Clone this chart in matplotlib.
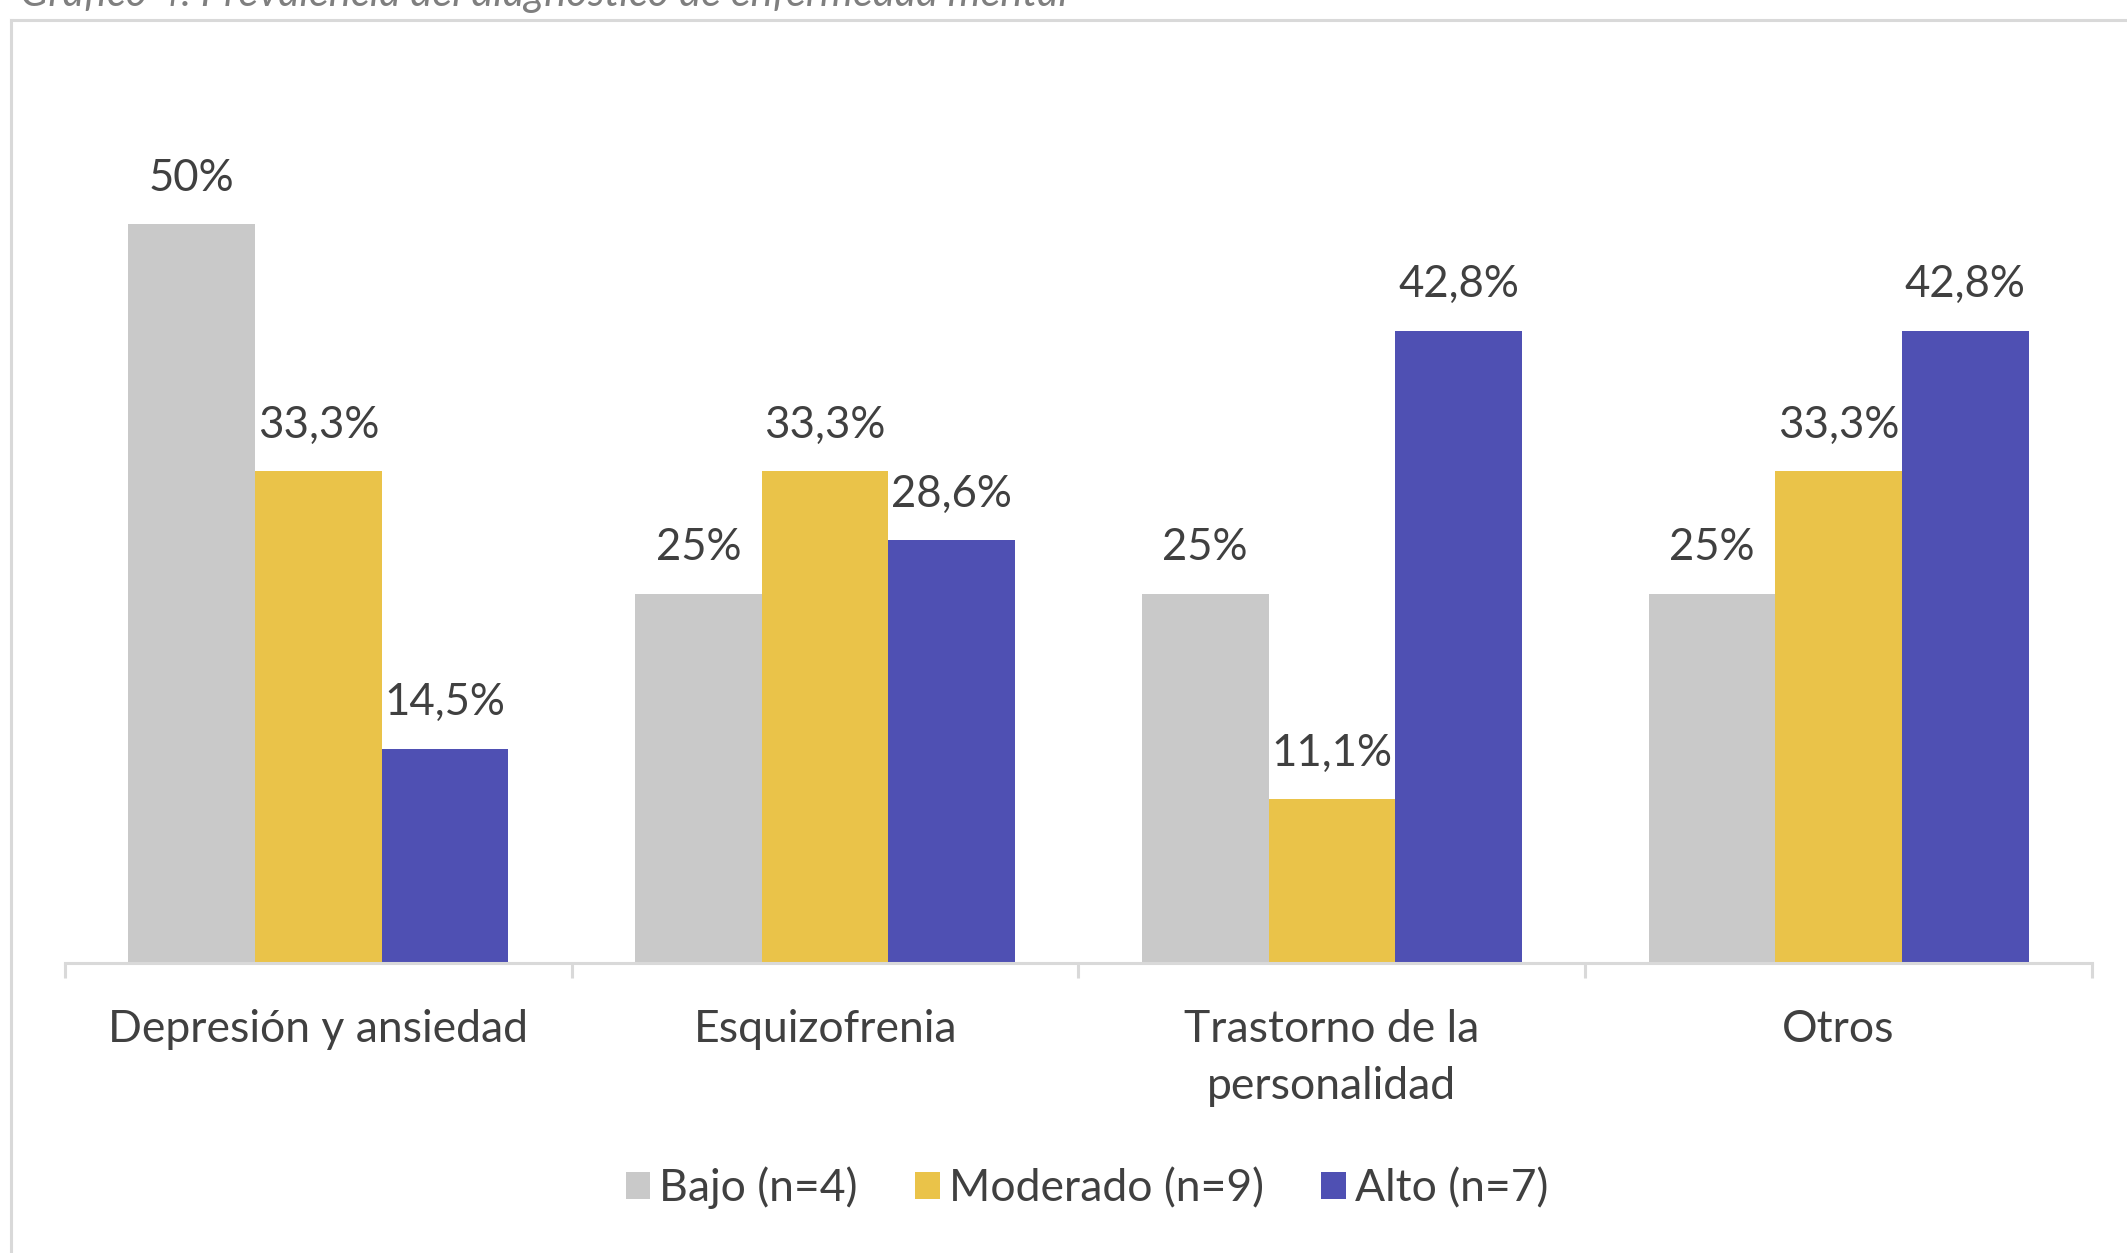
import numpy as np
import matplotlib.pyplot as plt
from matplotlib.lines import Line2D

# datos
categorias = ['Depresión y ansiedad', 'Esquizofrenia', 'Trastorno de la\npersonalidad', 'Otros']
series = ['Bajo (n=4)', 'Moderado (n=9)', 'Alto (n=7)']
bajo = [50, 25, 25, 25]
moderado = [33.3, 33.3, 11.1, 33.3]
alto = [14.5, 28.6, 42.8, 42.8]
etiquetas_bajo = ['50%', '25%', '25%', '25%']
etiquetas_moderado = ['33,3%', '33,3%', '11,1%', '33,3%']
etiquetas_alto = ['14,5%', '28,6%', '42,8%', '42,8%']
colores = ['#C9C9C9', '#EAC349', '#4F50B3']

plt.rcParams['font.family'] = ['Lato', 'DejaVu Sans']

fig = plt.figure(figsize=(21.27, 12.53), dpi=100)
ax = fig.add_axes([0.0306, 0.2315, 0.9529, 0.6485])

x = np.arange(len(categorias))
ancho = 0.25
valores = [bajo, moderado, alto]
etiquetas = [etiquetas_bajo, etiquetas_moderado, etiquetas_alto]
for i, (vals, labs) in enumerate(zip(valores, etiquetas)):
    pos = x + (i - 1) * ancho
    ax.bar(pos, vals, width=ancho, color=colores[i], label=series[i], zorder=2)
    for px, v, t in zip(pos, vals, labs):
        ax.annotate(t, (px, v), xytext=(0, 24), textcoords='offset points',
                    ha='center', va='baseline', fontsize=31.5, color='#404040')

ax.set_xlim(-0.5, len(categorias) - 0.5)
ax.set_ylim(0, 55)
ax.set_yticks([])
for s in ['top', 'right', 'left']:
    ax.spines[s].set_visible(False)
ax.spines['bottom'].set_color('#D9D9D9')
ax.spines['bottom'].set_linewidth(2.2)

ax.set_xticks(x)
ax.set_xticklabels(categorias, fontsize=32, color='#404040', linespacing=1.5)
ax.tick_params(axis='x', which='major', length=0, pad=33)
ax.set_xticks(np.arange(-0.5, len(categorias)), minor=True)
ax.tick_params(axis='x', which='minor', length=11, width=2.2, color='#D9D9D9')

fig.legend(loc='center', bbox_to_anchor=(0.511, 0.052), ncol=3, frameon=False,
           fontsize=32, handlelength=0.55, handleheight=0.55, handletextpad=0.2,
           columnspacing=1.3, labelcolor='#404040')

# marco del gráfico
fig.add_artist(Line2D([11 / 2127, 11 / 2127], [0, 1 - 20 / 1253], color='#D9D9D9', lw=2.2))
fig.add_artist(Line2D([11 / 2127, 1], [1 - 20 / 1253, 1 - 20 / 1253], color='#D9D9D9', lw=2.2))

# título recortado
fig.text(20 / 2127, 1 - 6 / 1253, 'Gráfico 4. Prevalencia del diagnóstico de enfermedad mental',
         fontsize=30, style='italic', color='#7F7F7F', va='baseline', ha='left')

fig.savefig('out.png', dpi=100)
